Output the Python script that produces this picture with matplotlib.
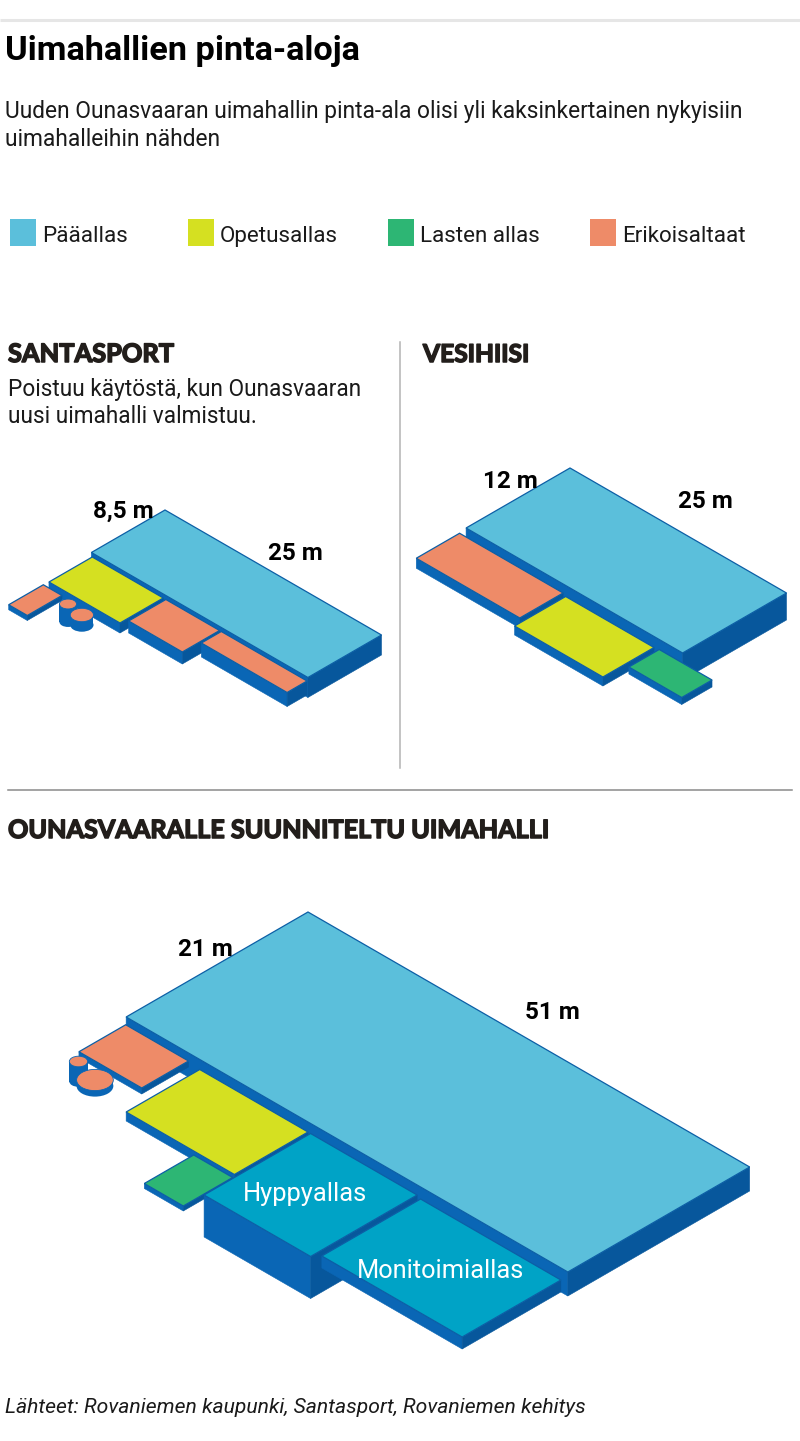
# Uimahallien pinta-alat isometrisenä piirroksena
import matplotlib
matplotlib.use("Agg")
import matplotlib.pyplot as plt
import matplotlib.patheffects as pe
from matplotlib.patches import Polygon, Ellipse, Rectangle

# --- värit ---
C_PAA = '#5bbfdb'
C_OPETUS = '#d5e021'
C_LASTEN = '#2db674'
C_ERIKOIS = '#ee8b68'
C_HYPPY = '#00a3c6'
WALL_L = '#0a66b5'
WALL_R = '#07579c'
EDGE = '#0c5fa6'
TXT = '#1a1a1a'
HEAD = '#221e1b'

KIND_COLOR = {'paa': C_PAA, 'opetus': C_OPETUS, 'lasten': C_LASTEN,
              'erikois': C_ERIKOIS, 'hyppy': C_HYPPY}

# --- data (metrit): u = pituussuunta, v = leveyssuunta ---
legend_labels = ['Pääallas', 'Opetusallas', 'Lasten allas', 'Erikoisaltaat']
legend_colors = [C_PAA, C_OPETUS, C_LASTEN, C_ERIKOIS]

# Santasport
ss_kind = ['paa', 'opetus', 'erikois', 'erikois', 'erikois']
ss_u = [0, 0.5, 0.45, 9.0, 15.4]
ss_v = [0, 8.9, 14.5, 8.9, 8.9]
ss_len = [25, 8.2, 2.15, 6.2, 9.9]
ss_wid = [8.5, 5.0, 4.0, 4.3, 2.3]
ss_depth = [2.0, 1.0, 0.5, 1.2, 1.4]
ss_round_u = [3.8, 5.7]
ss_round_v = [15.0, 15.3]
ss_round_r = [0.7, 0.95]
ss_round_d = [1.8, 1.0]
ss_dims = ['8,5 m', '25 m']

# Vesihiisi
vh_kind = ['paa', 'erikois', 'opetus', 'lasten']
vh_u = [0, 0.15, 12.6, 23.3]
vh_v = [0, 12.9, 13.1, 13.0]
vh_len = [25, 11.95, 10.2, 6.1]
vh_wid = [12, 5.0, 5.9, 3.5]
vh_depth = [2.7, 1.0, 0.9, 0.7]
vh_dims = ['12 m', '25 m']

# Ounasvaara (suunniteltu)
ou_kind = ['paa', 'erikois', 'opetus', 'lasten', 'hyppy', 'hyppy']
ou_name = ['', '', '', '', 'Hyppyallas', 'Monitoimiallas']
ou_u = [0, 0.75, 9.5, 17.7, 22.3, 35.2]
ou_v = [0, 21.8, 22.0, 30.9, 22.0, 22.2]
ou_len = [51, 7.25, 12.5, 4.5, 12.3, 16.2]
ou_wid = [21, 5.4, 8.5, 5.7, 12.3, 11.4]
ou_depth = [2.4, 0.6, 0.9, 0.5, 4.2, 1.2]
ou_round_u = [1.7, 4.5]
ou_round_v = [28.2, 29.1]
ou_round_r = [0.75, 1.5]
ou_round_d = [2.0, 0.6]
ou_dims = ['21 m', '51 m']

# --- piirtoalue pikseleinä ---
W, H = 800, 1441
fig = plt.figure(figsize=(W / 100, H / 100), dpi=100)
ax = fig.add_axes([0, 0, 1, 1])
ax.set_xlim(0, W)
ax.set_ylim(H, 0)
ax.axis('off')
renderer = fig.canvas.get_renderer()

K, S, DZ = 8.66, 5.0, 10.0  # isometria: px / m


def iso(o, u, v, h=0.0):
    return o[0] + K * (u - v), o[1] + S * (u + v) + h


def box(o, u0, v0, lu, lv, d, color):
    u1, v1, h = u0 + lu, v0 + lv, d * DZ
    left = [iso(o, u0, v1), iso(o, u1, v1), iso(o, u1, v1, h), iso(o, u0, v1, h)]
    right = [iso(o, u1, v0), iso(o, u1, v1), iso(o, u1, v1, h), iso(o, u1, v0, h)]
    top = [iso(o, u0, v0), iso(o, u1, v0), iso(o, u1, v1), iso(o, u0, v1)]
    ax.add_patch(Polygon(left, closed=True, fc=WALL_L, ec=WALL_L, lw=0.4))
    ax.add_patch(Polygon(right, closed=True, fc=WALL_R, ec=WALL_R, lw=0.4))
    ax.add_patch(Polygon(top, closed=True, fc=color, ec=EDGE, lw=0.9, joinstyle='miter'))


def cylinder(o, u, v, r, d, color):
    cx, cy = iso(o, u, v)
    a, b, h = K * r * 2 ** 0.5, S * r * 2 ** 0.5, d * DZ
    ax.add_patch(Ellipse((cx, cy + h), 2 * a, 2 * b, fc=WALL_L, ec='none'))
    ax.add_patch(Rectangle((cx - a, cy), 2 * a, h, fc=WALL_L, ec='none'))
    ax.add_patch(Ellipse((cx, cy), 2 * a, 2 * b, fc=color, ec=WALL_L, lw=0.6))


def hall(o, kind, us, vs, lens, wids, depths, ru, rv, rr, rd):
    for k, u, v, lu, lv, d in zip(kind, us, vs, lens, wids, depths):
        box(o, u, v, lu, lv, d, KIND_COLOR[k])
    for u, v, r, d in zip(ru, rv, rr, rd):
        cylinder(o, u, v, r, d, C_ERIKOIS)


def put(x, y, s, width=None, size=12, **kw):
    t = ax.text(x, y, s, fontsize=size, va='baseline', **kw)
    if width:
        bb = t.get_window_extent(renderer)
        t.set_fontsize(size * width / bb.width)
    return t


BODY = ['Roboto', 'DejaVu Sans']
HEADF = ['Lato', 'DejaVu Sans']
heavy = [pe.withStroke(linewidth=1.1, foreground=HEAD)]

# --- otsikot ---
ax.plot([0, W], [20, 20], color='#e6e6e6', lw=2.2, solid_capstyle='butt')
put(5, 60, 'Uimahallien pinta-aloja', width=355, size=22, family=BODY,
    weight='bold', color='black')
t = put(5, 118, 'Uuden Ounasvaaran uimahallin pinta-ala olisi yli kaksinkertainen nykyisiin',
        width=740, size=15, family=BODY, color=TXT)
put(5, 146, 'uimahalleihin nähden', size=t.get_fontsize(), family=BODY, color=TXT)

# --- selite ---
leg_x = [10, 188, 388, 590]
t = put(0, -100, legend_labels[3], width=124, size=15, family=BODY)
leg_size = t.get_fontsize()
t.remove()
for x, lab, col in zip(leg_x, legend_labels, legend_colors):
    ax.add_patch(Rectangle((x, 219), 26, 27, fc=col, ec='none'))
    put(x + 32, 242, lab, size=leg_size, family=BODY, color=TXT)

# --- Santasport ---
put(8, 362, 'SANTASPORT', width=166, size=18, family=HEADF, weight='bold',
    color=HEAD, path_effects=heavy)
t = put(8, 396, 'Poistuu käytöstä, kun Ounasvaaran', width=354, size=15,
        family=BODY, color=TXT)
put(8, 423, 'uusi uimahalli valmistuu.', size=t.get_fontsize(), family=BODY, color=TXT)
ax.plot([400, 400], [342, 768], color='#b3b3b3', lw=1.1)

# --- Vesihiisi ---
put(423, 362, 'VESIHIISI', width=106, size=18, family=HEADF, weight='bold',
    color=HEAD, path_effects=heavy)

ax.plot([8, 792], [790, 790], color='#8a8a8a', lw=1.1)
put(8, 838, 'OUNASVAARALLE SUUNNITELTU UIMAHALLI', width=541, size=18,
    family=HEADF, weight='bold', color=HEAD, path_effects=heavy)

# --- altaat ---
hall((165, 510), ss_kind, ss_u, ss_v, ss_len, ss_wid, ss_depth,
     ss_round_u, ss_round_v, ss_round_r, ss_round_d)
hall((570, 468), vh_kind, vh_u, vh_v, vh_len, vh_wid, vh_depth, [], [], [], [])
hall((308, 912), ou_kind, ou_u, ou_v, ou_len, ou_wid, ou_depth,
     ou_round_u, ou_round_v, ou_round_r, ou_round_d)

# mittamerkinnät
t = put(0, -100, '25 m', width=55, size=15, family=BODY, weight='bold')
dim_size = t.get_fontsize()
t.remove()
dim_pos = [(93, 518), (268, 560), (483, 488), (678, 508), (178, 956), (525, 1019)]
for (x, y), s in zip(dim_pos, ss_dims + vh_dims + ou_dims):
    put(x, y, s, size=dim_size, family=BODY, weight='bold', color='black')

# allasnimet
name_pos = {'Hyppyallas': (243, 1201, 125), 'Monitoimiallas': (357, 1278, 168)}
for nm in ou_name:
    if nm:
        x, y, w = name_pos[nm]
        put(x, y, nm, width=w, size=15, family=BODY, color='white')

# lähteet
put(5, 1413, 'Lähteet: Rovaniemen kaupunki, Santasport, Rovaniemen kehitys', width=580,
    size=13, family=BODY, style='italic', color=TXT)

fig.savefig('out.png', dpi=100)
